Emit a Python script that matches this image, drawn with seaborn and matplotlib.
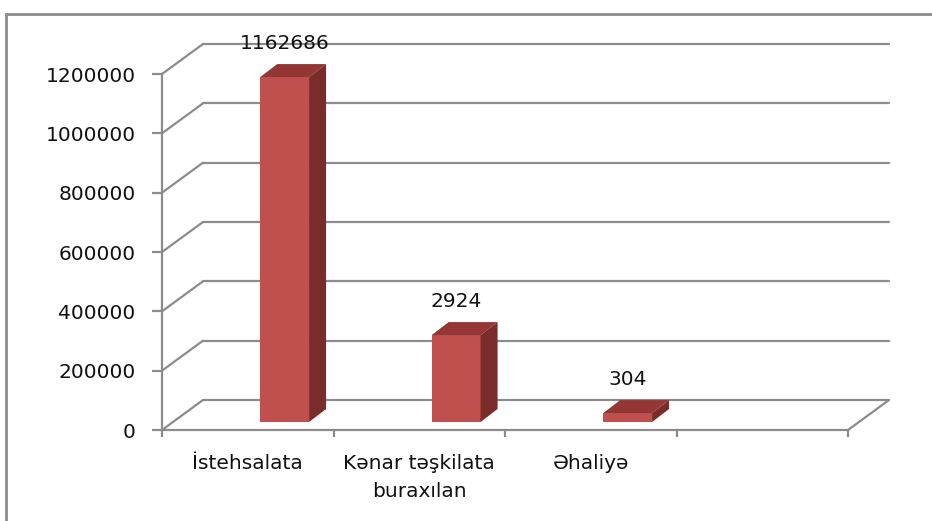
import numpy as np
import pandas as pd
import matplotlib.pyplot as plt
import seaborn as sns
from matplotlib.patches import Polygon
from matplotlib.lines import Line2D

# data
categories = ['İstehsalata', 'Kənar təşkilata\nburaxılan', 'Əhaliyə']
values = [1162686, 293000, 30000]          # bar heights as drawn
value_labels = ['1162686', '2924', '304']  # labels shown above the bars
y_ticks = [0, 200000, 400000, 600000, 800000, 1000000, 1200000]
n_slots = 4

FRONT = '#C0504D'
TOP = '#943634'
SIDE = '#782D2B'
GRID = '#8C8C8C'

sns.set_style('white')
plt.rcParams['font.family'] = ['DejaVu Sans']
plt.rcParams['font.size'] = 14.5

W, H = 932, 521
fig = plt.figure(figsize=(W / 100, H / 100), dpi=100)

# pixel layout of the plot box
x0_px, x1_px = 162, 893
y0_px, y1_px = 430, 30
px_per_slot = 171.5
px_per_val = 356 / 1200000

ax = fig.add_axes([x0_px / W, (H - y0_px) / H, (x1_px - x0_px) / W, (y0_px - y1_px) / H])
xmax = -0.5 + (x1_px - x0_px) / px_per_slot
ymax = (y0_px - y1_px) / px_per_val

# oblique offsets (wall depth, bar placement, bar depth)
wall_dx, wall_dy = 41 / px_per_slot, 30 / px_per_val
bar_base = 8 / px_per_val
bar_shift = 0.215
bar_dx, bar_dy = 17 / px_per_slot, 13 / px_per_val

# back wall grid lines and floor
for v in y_ticks:
    ax.plot([-0.5, -0.5 + wall_dx], [v, v + wall_dy], color=GRID, lw=1.6, zorder=1, clip_on=False)
    ax.plot([-0.5 + wall_dx, n_slots - 0.5 + wall_dx], [v + wall_dy, v + wall_dy],
            color=GRID, lw=1.6, zorder=1, clip_on=False)
ax.plot([n_slots - 0.5, n_slots - 0.5 + wall_dx], [0, wall_dy], color=GRID, lw=1.6, zorder=1, clip_on=False)

df = pd.DataFrame({'pos': np.arange(len(categories)) + bar_shift, 'value': values})
sns.barplot(data=df, x='pos', y='value', native_scale=True, width=0.285, color=FRONT,
            saturation=1, bottom=bar_base, errorbar=None, ax=ax, zorder=3, linewidth=0)

for p, lab in zip(ax.patches, value_labels):
    xl = p.get_x()
    xr = xl + p.get_width()
    yb = p.get_y()
    yt = yb + p.get_height()
    ax.add_patch(Polygon([(xl, yt), (xr, yt), (xr + bar_dx, yt + bar_dy), (xl + bar_dx, yt + bar_dy)],
                         closed=True, facecolor=TOP, edgecolor='none', zorder=3, clip_on=False))
    ax.add_patch(Polygon([(xr, yb), (xr, yt), (xr + bar_dx, yt + bar_dy), (xr + bar_dx, yb + bar_dy)],
                         closed=True, facecolor=SIDE, edgecolor='none', zorder=3, clip_on=False))
    ax.annotate(lab, (xl + p.get_width() / 2, yt + bar_dy), xytext=(0, 15), textcoords='offset points',
                ha='center', va='center', fontsize=14.5, color='#111111', zorder=5, annotation_clip=False)

ax.set_xlim(-0.5, xmax)
ax.set_ylim(0, ymax)

for s in ['top', 'right']:
    ax.spines[s].set_visible(False)
for s in ['left', 'bottom']:
    ax.spines[s].set_color(GRID)
    ax.spines[s].set_linewidth(1.6)
ax.spines['left'].set_bounds(0, y_ticks[-1])
ax.spines['bottom'].set_bounds(-0.5, n_slots - 0.5)

ax.set_yticks(y_ticks)
ax.set_yticklabels([str(v) for v in y_ticks])
ax.tick_params(axis='y', left=True, length=7, width=1.6, color=GRID, pad=12, labelsize=14.5,
               labelcolor='#111111')

ax.set_xticks(np.arange(n_slots + 1) - 0.5)
ax.set_xticklabels([])
ax.tick_params(axis='x', which='major', bottom=True, length=5, width=1.6, color=GRID)
ax.set_xticks(np.arange(len(categories)), minor=True)
ax.set_xticklabels(categories, minor=True, linespacing=1.6)
ax.tick_params(axis='x', which='minor', bottom=True, length=0, pad=17, labelsize=14.5, labelcolor='#111111')
ax.set_xlabel('')
ax.set_ylabel('')
ax.grid(False)

# outer chart frame
fig.add_artist(Line2D([6 / W, 6 / W], [0, 1 - 14 / H], color=GRID, lw=2))
fig.add_artist(Line2D([6 / W, 1], [1 - 14 / H, 1 - 14 / H], color=GRID, lw=2))

fig.savefig('out.png', dpi=100)
